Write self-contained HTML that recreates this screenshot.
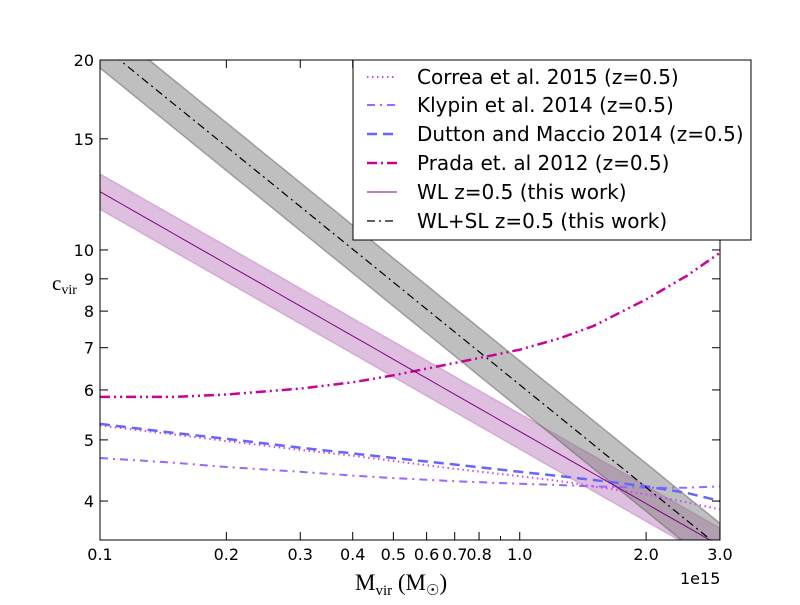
<!DOCTYPE html>
<html><head><meta charset="utf-8"><style>
body{margin:0;background:#fff;}
svg text{font-family:"DejaVu Sans","Liberation Sans",sans-serif;}
svg text.serif{font-family:"Liberation Serif","DejaVu Serif",serif;}
</style></head><body>
<svg id="chart" width="800" height="600" xmlns="http://www.w3.org/2000/svg">
<defs><clipPath id="plotclip"><rect x="100" y="60" width="620" height="480"/></clipPath></defs>
<rect width="800" height="600" fill="#fff"/>
<g id="plot" clip-path="url(#plotclip)"></g>
<g id="axes"></g>
</svg>
<script>
const xTicks=[0.1,0.2,0.3,0.4,0.5,0.6,0.7,0.8,1.0,2.0,3.0];
const xTickLabels=["0.1","0.2","0.3","0.4","0.5","0.6","0.7","0.8","1.0","2.0","3.0"];
const yTicks=[4,5,6,7,8,9,10,15,20];
const yTickLabels=["4","5","6","7","8","9","10","15","20"];
const massGrid=[0.1,0.15,0.2,0.3,0.4,0.5,0.7,1.0,1.25,1.5,2.0,2.5,3.0];
const pradaC=[5.85,5.85,5.9,6.03,6.17,6.33,6.62,6.95,7.25,7.58,8.35,9.1,9.9];
const duttonC=[5.3,5.13,5.02,4.86,4.76,4.68,4.57,4.45,4.38,4.32,4.22,4.12,4.0];
const correaC=[5.27,5.1,4.98,4.82,4.72,4.63,4.5,4.38,4.3,4.22,4.1,3.98,3.88];
const klypinC=[4.68,4.6,4.53,4.45,4.39,4.35,4.3,4.26,4.24,4.22,4.2,4.2,4.22];
const wlNorm=[12.37], wlSlope=[-0.38], wlBand=[0.028];
const wlslNorm=[21.2], wlslSlope=[-0.54], wlslBand=[0.038];

const X0=100,X1=720,Y0=60,Y1=540,xmin=0.1,xmax=3.0,ymin=3.47,ymax=20;
const sx=m=>X0+(Math.log10(m)-Math.log10(xmin))/(Math.log10(xmax)-Math.log10(xmin))*(X1-X0);
const sy=c=>Y1-(Math.log10(c)-Math.log10(ymin))/(Math.log10(ymax)-Math.log10(ymin))*(Y1-Y0);
const NS="http://www.w3.org/2000/svg";
const plot=document.getElementById('plot'),axes=document.getElementById('axes');
function mk(t,a,p){const e=document.createElementNS(NS,t);for(const k in a)e.setAttribute(k,a[k]);p.appendChild(e);return e;}
const fine=[];for(let i=0;i<=60;i++)fine.push(xmin*Math.pow(xmax/xmin,i/60));
function pl(norm,slope,m,off){return Math.pow(10,Math.log10(norm)+slope*Math.log10(m/0.1)+off);}
function band(norm,slope,hw,fill,stroke,name){
  let d=fine.map((m,i)=>(i?'L':'M')+sx(m).toFixed(1)+','+sy(pl(norm,slope,m,hw)).toFixed(1)).join('');
  d+=fine.slice().reverse().map(m=>'L'+sx(m).toFixed(1)+','+sy(pl(norm,slope,m,-hw)).toFixed(1)).join('')+'Z';
  const e=mk('path',{d:d,fill:fill,'fill-opacity':0.5,stroke:stroke,'stroke-opacity':0.5,'stroke-width':1.5},plot);
  
  
}
band(wlNorm[0],wlSlope[0],wlBand[0],'#bf7fbf','#bf7fbf','wl-band');
band(wlslNorm[0],wlslSlope[0],wlslBand[0],'#808080','#606060','wl-sl-band');
function line(xs,ys,col,w,dash,name){
  const d=xs.map((m,i)=>(i?'L':'M')+sx(m).toFixed(1)+','+sy(ys[i]).toFixed(1)).join('');
  const a={d:d,fill:'none',stroke:col,'stroke-width':w,'stroke-linejoin':'round'};if(dash)a['stroke-dasharray']=dash;
  const e=mk('path',a,plot);
  
  
}
line(massGrid,correaC,'#cc44ff',2,'1.5,3.5','correa-line');
line(massGrid,klypinC,'#9966ff',2,'8,5,2,5','klypin-line');
line(massGrid,duttonC,'#6666ff',2.5,'10,6','dutton-line');
line(massGrid,pradaC,'#cc0099',2.5,'10,4,2,4,2,4','prada-line');
line(fine,fine.map(m=>pl(wlNorm[0],wlSlope[0],m,0)),'#800080',1,null,'wl-line');
line(fine,fine.map(m=>pl(wlslNorm[0],wlslSlope[0],m,0)),'#000',1.2,'8,4,2,4','wl-sl-line');

const fr=mk('rect',{x:X0,y:Y0,width:X1-X0,height:Y1-Y0,fill:'none',stroke:'#000','stroke-width':1},axes);

xTicks.forEach((v,i)=>{const x=sx(v);
  mk('line',{x1:x,y1:Y1,x2:x,y2:Y1-8,stroke:'#000'},axes);mk('line',{x1:x,y1:Y0,x2:x,y2:Y0+8,stroke:'#000'},axes);
  const t=mk('text',{x:x,y:Y1+20,'text-anchor':'middle','font-size':16},axes);t.textContent=xTickLabels[i];
  });
[0.9].forEach(v=>{const x=sx(v);mk('line',{x1:x,y1:Y1,x2:x,y2:Y1-4,stroke:'#000'},axes);mk('line',{x1:x,y1:Y0,x2:x,y2:Y0+4,stroke:'#000'},axes);});
yTicks.forEach((v,i)=>{const y=sy(v);
  mk('line',{x1:X0,y1:y,x2:X0+8,y2:y,stroke:'#000'},axes);mk('line',{x1:X1,y1:y,x2:X1-8,y2:y,stroke:'#000'},axes);
  const t=mk('text',{x:X0-6,y:y+6,'text-anchor':'end','font-size':16},axes);t.textContent=yTickLabels[i];
  });
</script>
<svg style="position:absolute;left:0;top:0" width="800" height="600" xmlns="http://www.w3.org/2000/svg">
<text x="680" y="584" font-size="16">1e15</text>
<text class="serif" x="355" y="590" font-size="23">M<tspan font-size="15" dy="5">vir</tspan><tspan dy="-5"> (M</tspan><tspan font-size="15" dy="5">☉</tspan><tspan dy="-5">)</tspan></text>
<text class="serif" x="52" y="290" font-size="21">c<tspan font-size="14" dy="4">vir</tspan></text>
<g>
<rect x="353" y="60" width="398" height="180" fill="#fff" stroke="#000"/>
<line x1="367" y1="77" x2="397" y2="77" stroke="#cc44ff" stroke-width="2" stroke-dasharray="1.5,3.5"/>
<line x1="367" y1="105" x2="397" y2="105" stroke="#9966ff" stroke-width="2" stroke-dasharray="8,5,2,5"/>
<line x1="367" y1="134" x2="397" y2="134" stroke="#6666ff" stroke-width="2.5" stroke-dasharray="10,6"/>
<line x1="367" y1="163" x2="397" y2="163" stroke="#cc0099" stroke-width="2.5" stroke-dasharray="10,4,2,4"/>
<line x1="367" y1="192" x2="397" y2="192" stroke="#800080" stroke-width="1"/>
<line x1="367" y1="221" x2="397" y2="221" stroke="#000" stroke-width="1.2" stroke-dasharray="8,4,2,4"/>
<g font-size="20">
<text x="417" y="84">Correa et al. 2015 (z=0.5)</text>
<text x="417" y="112">Klypin et al. 2014 (z=0.5)</text>
<text x="417" y="141">Dutton and Maccio 2014 (z=0.5)</text>
<text x="417" y="170">Prada et. al 2012 (z=0.5)</text>
<text x="417" y="199">WL z=0.5 (this work)</text>
<text x="417" y="228">WL+SL z=0.5 (this work)</text>
</g></g>
</svg>
</body></html>
